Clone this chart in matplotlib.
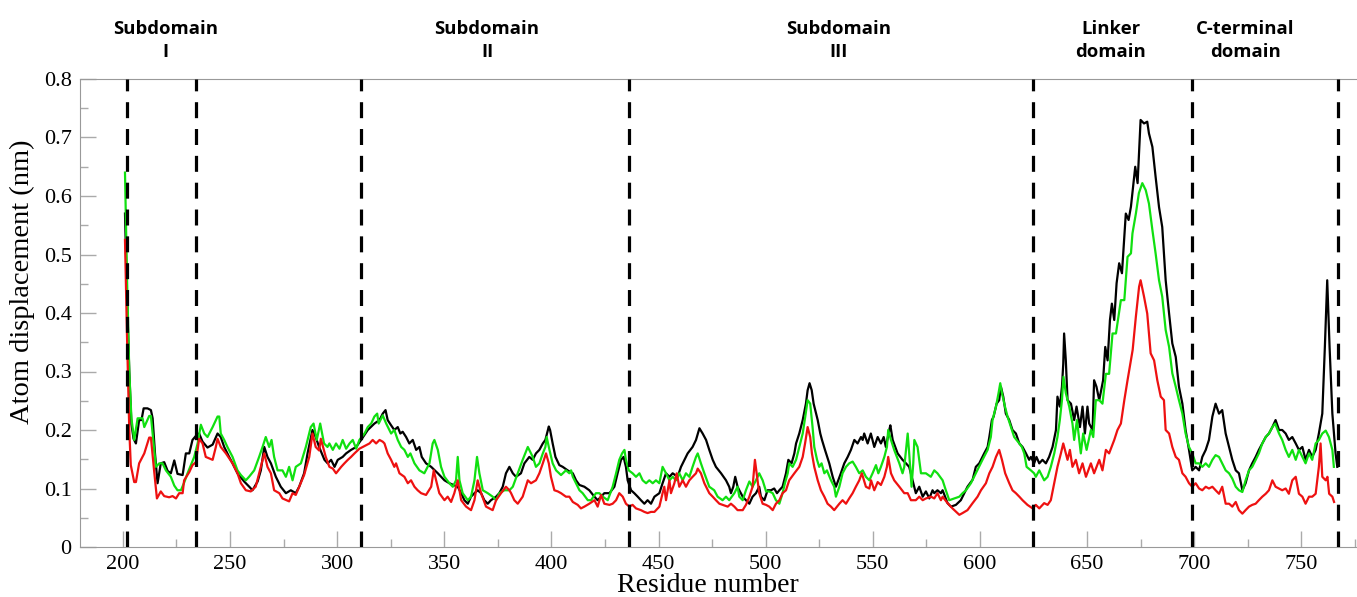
import numpy as np
import matplotlib
matplotlib.use("Agg")
import matplotlib.pyplot as plt
from matplotlib.ticker import MultipleLocator

# (residue, displacement in nm)
black = [
    (201, 0.57), (202, 0.42), (203, 0.30), (204, 0.21), (205, 0.185), (206.1, 0.177), (207.6, 0.217), (208.7, 0.217),
    (209.7, 0.237), (211.5, 0.237), (213.1, 0.234), (213.9, 0.22), (215, 0.16), (216.2, 0.109), (217.7, 0.143),
    (219.3, 0.145), (220.9, 0.130), (222.4, 0.126), (224, 0.148), (225.5, 0.125), (227.9, 0.123), (229.4, 0.160),
    (231, 0.160), (232.5, 0.183), (234.1, 0.19), (235.6, 0.194), (237.2, 0.18), (239.5, 0.17), (241.9, 0.175),
    (244.2, 0.194), (245.7, 0.188), (247.3, 0.171), (249.6, 0.154), (251.2, 0.143), (253.5, 0.126), (256.6, 0.112),
    (259, 0.103), (260.5, 0.097), (262.9, 0.112), (264.4, 0.131), (266, 0.171), (267.5, 0.154), (269.1, 0.143),
    (271.4, 0.120), (273.7, 0.103), (276.1, 0.092), (278.4, 0.097), (280.7, 0.092), (282.3, 0.103), (284.6, 0.126),
    (286.2, 0.160), (288.5, 0.200), (290, 0.188), (291.6, 0.171), (294.1, 0.149), (295.6, 0.143), (297.2, 0.149),
    (298.8, 0.137), (300.3, 0.149), (302.6, 0.154), (304.2, 0.160), (306.5, 0.166), (308.9, 0.171), (311.2, 0.183),
    (314.3, 0.200), (317.4, 0.211), (319.8, 0.217), (321.3, 0.228), (322.6, 0.234), (323.6, 0.217), (325.2, 0.208),
    (326.7, 0.200), (328.3, 0.205), (329.5, 0.194), (330.6, 0.197), (332.2, 0.188), (333.7, 0.177), (335.3, 0.183),
    (336.9, 0.166), (338.4, 0.171), (339.5, 0.154), (341.5, 0.143), (343.9, 0.137), (347, 0.126), (350.1, 0.114),
    (352.4, 0.109), (356.3, 0.103), (357.9, 0.092), (359.4, 0.080), (361, 0.074), (362.5, 0.086), (364.1, 0.092),
    (365.6, 0.097), (367.2, 0.092), (368.7, 0.080), (370.3, 0.074), (371.8, 0.080), (374.2, 0.086), (375.7, 0.092),
    (377.3, 0.103), (378.8, 0.126), (380.4, 0.137), (382, 0.126), (383.5, 0.120), (385.8, 0.126), (387.4, 0.143),
    (389.7, 0.154), (391.3, 0.149), (392.8, 0.160), (394.4, 0.166), (396, 0.177), (397.2, 0.183), (398.8, 0.206),
    (399.4, 0.200), (400.6, 0.177), (401.9, 0.154), (403.7, 0.140), (405.3, 0.137), (407.6, 0.131), (410, 0.126),
    (411.5, 0.114), (413.1, 0.106), (415.4, 0.103), (417.7, 0.097), (420.1, 0.086), (421.6, 0.080), (423.2, 0.086),
    (424.7, 0.092), (427.1, 0.092), (429.4, 0.103), (430.9, 0.126), (432.5, 0.149), (433.7, 0.154), (434.8, 0.137),
    (435.6, 0.114), (437.2, 0.097), (438.7, 0.092), (440.3, 0.086), (441.8, 0.080), (443.4, 0.074), (444.9, 0.080),
    (446.5, 0.074), (448.1, 0.086), (450.4, 0.092), (451.9, 0.109), (453.5, 0.126), (455.1, 0.120), (456.6, 0.126),
    (458.9, 0.120), (460.5, 0.137), (462.1, 0.149), (463.6, 0.160), (465.9, 0.171), (467.5, 0.183), (469.1, 0.203),
    (470.6, 0.194), (472.2, 0.183), (473.7, 0.166), (475.3, 0.149), (476.8, 0.137), (479.2, 0.126), (481.5, 0.114),
    (483, 0.103), (483.8, 0.092), (484.9, 0.103), (485.8, 0.120), (486.9, 0.103), (487.7, 0.097), (489.3, 0.086),
    (490.8, 0.080), (492.4, 0.074), (493.9, 0.086), (495.5, 0.092), (497, 0.103), (497.8, 0.086), (499.4, 0.080),
    (500.9, 0.097), (502.5, 0.097), (504, 0.100), (505.3, 0.092), (506.4, 0.097), (507.9, 0.103), (509.5, 0.126),
    (510.6, 0.149), (512.1, 0.143), (513.4, 0.160), (514.2, 0.177), (515.7, 0.194), (517.3, 0.217), (518.8, 0.245),
    (519.6, 0.268), (520.5, 0.280), (521.5, 0.268), (522.4, 0.245), (524.3, 0.217), (525.5, 0.194), (526.3, 0.183),
    (527.7, 0.166), (529.7, 0.143), (531.3, 0.120), (532.8, 0.103), (533.9, 0.114), (535.1, 0.126), (536.7, 0.143),
    (538.3, 0.154), (539.8, 0.166), (541.4, 0.183), (542.9, 0.177), (544.5, 0.188), (545.3, 0.183), (546, 0.194),
    (547.6, 0.177), (549.1, 0.194), (550.7, 0.171), (552.3, 0.188), (553.8, 0.177), (555.1, 0.188), (556.1, 0.171),
    (557.7, 0.200), (558.2, 0.208), (559.3, 0.183), (561.6, 0.160), (563.9, 0.149), (565.5, 0.143), (567, 0.137),
    (568.6, 0.114), (570.1, 0.092), (571.7, 0.103), (573.3, 0.086), (574.8, 0.095), (576.4, 0.083), (577.9, 0.097),
    (578.7, 0.092), (580.2, 0.097), (581.8, 0.092), (582.6, 0.097), (584.9, 0.075), (586.5, 0.069), (588.8, 0.072),
    (591.1, 0.080), (592.7, 0.092), (594.2, 0.103), (596.6, 0.115), (598.1, 0.137), (599.7, 0.143), (602, 0.160),
    (603.6, 0.171), (604.4, 0.188), (605.6, 0.217), (606.4, 0.223), (607.8, 0.245), (609, 0.251), (609.8, 0.274),
    (610.9, 0.257), (612.1, 0.228), (613.7, 0.217), (615.2, 0.200), (616.8, 0.194), (618.4, 0.177), (619.9, 0.171),
    (621.5, 0.160), (623, 0.149), (623.8, 0.154), (625.3, 0.143), (626.4, 0.154), (627.7, 0.143), (629.2, 0.149),
    (630.8, 0.143), (632.3, 0.154), (633.9, 0.171), (635.5, 0.200), (636.2, 0.257), (637.3, 0.240), (638.3, 0.274),
    (638.9, 0.313), (639.3, 0.365), (640.1, 0.319), (640.9, 0.251), (642.5, 0.245), (644, 0.217), (645.1, 0.240),
    (646.7, 0.205), (647.9, 0.240), (649, 0.194), (650.2, 0.240), (651, 0.211), (652.6, 0.200), (653.3, 0.285),
    (654.4, 0.274), (655.7, 0.251), (657.5, 0.285), (658.5, 0.342), (659.6, 0.319), (660.7, 0.388), (661.6, 0.416),
    (662.7, 0.388), (663.8, 0.451), (665, 0.485), (666.3, 0.468), (667.3, 0.525), (668.1, 0.570), (669.4, 0.559),
    (670.5, 0.582), (671.5, 0.616), (672.5, 0.650), (673.6, 0.622), (675, 0.730), (676.6, 0.724), (678.1, 0.727),
    (678.9, 0.707), (680.5, 0.684), (682, 0.633), (683.6, 0.581), (685.1, 0.547), (686.7, 0.456), (688.3, 0.399),
    (689.8, 0.348), (691.4, 0.325), (692.9, 0.274), (694.5, 0.245), (696, 0.200), (697.6, 0.166), (699.1, 0.131),
    (700.7, 0.137), (702.3, 0.131), (703.8, 0.154), (705.4, 0.166), (706.9, 0.183), (708.5, 0.223), (710, 0.245),
    (711.6, 0.228), (713.1, 0.234), (714.7, 0.194), (716.3, 0.171), (717.8, 0.149), (719.4, 0.131), (720.9, 0.126),
    (722.5, 0.097), (724, 0.109), (725.6, 0.131), (727.1, 0.143), (728.7, 0.154), (730.2, 0.166), (731.8, 0.177),
    (733.4, 0.188), (734.9, 0.194), (736.5, 0.205), (738, 0.217), (739.6, 0.200), (741.1, 0.200), (742.7, 0.194),
    (744.2, 0.183), (745.8, 0.188), (747.4, 0.177), (748.9, 0.166), (750.5, 0.171), (752, 0.149), (753.6, 0.166),
    (755.1, 0.154), (756.7, 0.166), (758.2, 0.194), (759.8, 0.228), (761, 0.342), (762.1, 0.456), (763.2, 0.342),
    (764.5, 0.228), (766, 0.160), (766.8, 0.137),
]

green = [
    (201, 0.64), (202, 0.45), (203, 0.30), (204, 0.22), (205.3, 0.183), (206.9, 0.220), (209.2, 0.220), (210, 0.205),
    (212.3, 0.224), (213.1, 0.224), (215.4, 0.137), (217, 0.143), (218.5, 0.143), (220.1, 0.131), (222.4, 0.120),
    (224, 0.105), (225.5, 0.097), (227.1, 0.097), (228.6, 0.110), (230.2, 0.126), (233.3, 0.154), (234.9, 0.177),
    (236.4, 0.209), (238, 0.194), (239.5, 0.188), (241.9, 0.205), (244.2, 0.223), (245, 0.223), (245.7, 0.194),
    (247.3, 0.183), (248.8, 0.171), (251.2, 0.154), (253.5, 0.131), (255.1, 0.123), (257.4, 0.114), (258.9, 0.120),
    (261.3, 0.131), (263.6, 0.154), (265.2, 0.171), (266.7, 0.188), (268.3, 0.171), (269.4, 0.183), (270.6, 0.154),
    (272.2, 0.131), (274.5, 0.131), (276.1, 0.120), (277.6, 0.137), (279.2, 0.114), (280.7, 0.137), (283.1, 0.143),
    (285.4, 0.171), (287.7, 0.205), (289, 0.211), (290.5, 0.183), (292.1, 0.211), (293.9, 0.177), (295.5, 0.171),
    (296.4, 0.177), (298, 0.166), (299.5, 0.177), (301.1, 0.168), (302.6, 0.183), (304.2, 0.168), (305.8, 0.177),
    (307.3, 0.183), (308.9, 0.168), (310.4, 0.183), (312.8, 0.194), (314.3, 0.205), (315.9, 0.211), (317.4, 0.223),
    (318.7, 0.228), (319.4, 0.211), (321.3, 0.225), (322.9, 0.211), (325.2, 0.194), (326.7, 0.200), (328.3, 0.183),
    (329.9, 0.171), (331.4, 0.166), (333, 0.154), (334.2, 0.160), (336.1, 0.143), (338.4, 0.131), (340.7, 0.126),
    (343.1, 0.143), (344.6, 0.177), (345.4, 0.183), (347, 0.166), (348.5, 0.137), (350.1, 0.120), (352.4, 0.109),
    (354, 0.103), (355.5, 0.114), (356.3, 0.154), (357.1, 0.114), (358.6, 0.092), (361, 0.080), (362.5, 0.086),
    (364.1, 0.114), (365.3, 0.154), (366.4, 0.126), (368, 0.097), (370.3, 0.092), (372.6, 0.086), (374.2, 0.080),
    (375.7, 0.092), (378.1, 0.097), (380.4, 0.097), (382, 0.103), (384.3, 0.126), (386.6, 0.149), (389, 0.171),
    (390.5, 0.160), (391.3, 0.154), (392.8, 0.137), (394.4, 0.143), (396, 0.160), (397.2, 0.171), (397.8, 0.188),
    (399.1, 0.166), (400.6, 0.143), (402.2, 0.131), (404.5, 0.123), (406.8, 0.131), (408.4, 0.126), (409.2, 0.131),
    (410, 0.120), (411.5, 0.109), (413.1, 0.097), (414.6, 0.092), (417, 0.080), (418.5, 0.080), (420.8, 0.092),
    (422.4, 0.092), (424, 0.086), (426.3, 0.080), (428.6, 0.103), (430.2, 0.126), (431.7, 0.149), (433, 0.160),
    (434.1, 0.166), (434.8, 0.149), (436.1, 0.131), (437.9, 0.126), (439.5, 0.120), (441.1, 0.126), (442.6, 0.114),
    (444.2, 0.109), (445.7, 0.114), (447.3, 0.109), (448.8, 0.114), (450.4, 0.109), (451.9, 0.137), (453.5, 0.126),
    (455.1, 0.114), (456.6, 0.120), (458.2, 0.114), (459.7, 0.126), (461.3, 0.114), (462.8, 0.126), (464.4, 0.120),
    (465.9, 0.137), (467.5, 0.154), (468.3, 0.160), (469.8, 0.143), (471.4, 0.126), (473.7, 0.103), (476, 0.097),
    (477.6, 0.086), (479.9, 0.080), (481.5, 0.086), (483, 0.080), (485.4, 0.092), (486.9, 0.103), (487.7, 0.086),
    (489.3, 0.080), (490.8, 0.097), (492.4, 0.112), (493.9, 0.103), (495.5, 0.114), (497, 0.126), (498.6, 0.114),
    (500.2, 0.095), (501.7, 0.095), (503.3, 0.092), (504.8, 0.080), (506.4, 0.074), (507.9, 0.092), (509, 0.109),
    (510.3, 0.126), (511, 0.143), (512.6, 0.137), (514.2, 0.149), (515.7, 0.171), (517.3, 0.194), (518.5, 0.223),
    (519.6, 0.251), (520.8, 0.245), (521.9, 0.205), (522.7, 0.171), (524, 0.149), (525, 0.137), (526.1, 0.143),
    (527.4, 0.126), (528.6, 0.131), (530.5, 0.114), (532, 0.103), (532.8, 0.086), (534.4, 0.103), (535.9, 0.126),
    (537.5, 0.137), (539, 0.143), (540.6, 0.146), (542.1, 0.137), (543.7, 0.126), (545.3, 0.131), (546.8, 0.120),
    (548.4, 0.114), (549.9, 0.126), (551.5, 0.140), (552.6, 0.126), (553.8, 0.137), (555.4, 0.154), (556.6, 0.171),
    (557.2, 0.200), (558.5, 0.183), (560, 0.166), (562.4, 0.143), (563.9, 0.126), (564.7, 0.137), (566.3, 0.194),
    (567, 0.160), (568.1, 0.103), (568.9, 0.143), (569.4, 0.183), (570.9, 0.171), (572.5, 0.126), (574.8, 0.126),
    (577.1, 0.120), (578.7, 0.131), (580.2, 0.126), (582.6, 0.114), (584.1, 0.097), (585.7, 0.080), (588, 0.083),
    (590.4, 0.086), (591.9, 0.092), (593.5, 0.097), (595.8, 0.109), (598.1, 0.126), (601.2, 0.149), (603.6, 0.166),
    (605.1, 0.188), (605.9, 0.217), (607.5, 0.240), (608.7, 0.263), (609.5, 0.280), (610.3, 0.263), (611.7, 0.240),
    (612.9, 0.223), (614.5, 0.205), (616, 0.188), (618.4, 0.177), (619.6, 0.171), (620.7, 0.160), (621.8, 0.137),
    (623.8, 0.131), (625.3, 0.126), (626.1, 0.120), (627.7, 0.131), (630, 0.114), (631.6, 0.120), (633.1, 0.137),
    (634.7, 0.160), (636.2, 0.188), (637.3, 0.217), (638.3, 0.251), (639, 0.291), (640.1, 0.263), (641.7, 0.240),
    (643.2, 0.211), (644, 0.183), (645.3, 0.217), (647.1, 0.160), (648.2, 0.194), (649.8, 0.166), (651.8, 0.200),
    (652.9, 0.188), (654.1, 0.251), (655.7, 0.251), (657.2, 0.245), (658.8, 0.296), (660.3, 0.296), (661.9, 0.365),
    (663.5, 0.365), (665.8, 0.422), (667.4, 0.422), (668.9, 0.496), (670.5, 0.502), (671.2, 0.536), (672.8, 0.570),
    (674.2, 0.605), (675.8, 0.622), (677.4, 0.610), (678.9, 0.587), (680.5, 0.542), (682, 0.502), (683.6, 0.456),
    (685.1, 0.428), (686.7, 0.371), (688.3, 0.342), (689.8, 0.297), (691.4, 0.274), (692.9, 0.251), (694.5, 0.228),
    (696, 0.194), (697.6, 0.171), (699.1, 0.160), (700.7, 0.143), (702.3, 0.143), (703.8, 0.137), (705.4, 0.143),
    (706.9, 0.137), (708.5, 0.149), (710, 0.157), (711.6, 0.154), (713.1, 0.143), (714.7, 0.131), (716.3, 0.126),
    (717.8, 0.117), (719.4, 0.103), (720.9, 0.097), (722.5, 0.094), (724, 0.114), (725.6, 0.131), (727.1, 0.137),
    (728.7, 0.149), (730.2, 0.160), (731.8, 0.177), (733.4, 0.188), (734.9, 0.194), (736.5, 0.205), (737.8, 0.211),
    (739.6, 0.194), (741.1, 0.183), (742.7, 0.166), (744.2, 0.154), (745.8, 0.166), (747.4, 0.149), (748.9, 0.166),
    (750.5, 0.154), (752, 0.143), (753.6, 0.160), (755.1, 0.149), (756.7, 0.177), (758.2, 0.183), (759.8, 0.194),
    (761.4, 0.199), (762.9, 0.188), (764.5, 0.166), (765.2, 0.137),
]

red = [
    (201, 0.525), (202, 0.35), (203, 0.20), (203.7, 0.14), (205.3, 0.111), (206.1, 0.111), (207.6, 0.143), (210, 0.160),
    (212.3, 0.187), (213.1, 0.187), (214.6, 0.13), (215.9, 0.083), (217.7, 0.095), (219.3, 0.087), (221.6, 0.085),
    (223.2, 0.087), (224.8, 0.083), (226.3, 0.092), (227.9, 0.092), (228.6, 0.114), (231, 0.128), (232.5, 0.140),
    (234.1, 0.145), (235.6, 0.185), (237.2, 0.177), (238.7, 0.154), (241.9, 0.149), (243.4, 0.171), (244.2, 0.185),
    (245.7, 0.171), (248.1, 0.160), (251.2, 0.143), (253.5, 0.126), (255.1, 0.109), (257.4, 0.097), (259.7, 0.095),
    (262, 0.103), (263.6, 0.126), (265.2, 0.149), (266, 0.160), (267.5, 0.137), (269.1, 0.126), (270.6, 0.097),
    (273, 0.092), (274.5, 0.083), (277.6, 0.078), (279.2, 0.092), (280.7, 0.089), (282.3, 0.103), (284.6, 0.123),
    (287, 0.154), (288.5, 0.194), (290, 0.171), (291.6, 0.165), (292.4, 0.185), (294.7, 0.154), (296.4, 0.137),
    (298, 0.134), (299.5, 0.126), (301.9, 0.137), (303.4, 0.143), (305, 0.149), (306.5, 0.154), (308.1, 0.160),
    (310.4, 0.168), (312, 0.171), (313.5, 0.174), (315.1, 0.177), (316.6, 0.183), (318.2, 0.177), (319.8, 0.183),
    (321.3, 0.180), (322.1, 0.177), (323.6, 0.160), (325.2, 0.149), (326.7, 0.137), (327.5, 0.143), (329.1, 0.126),
    (331.4, 0.120), (333, 0.109), (334.5, 0.114), (336.1, 0.103), (337.6, 0.097), (339.2, 0.092), (341.5, 0.089),
    (343.9, 0.103), (345.1, 0.131), (346.2, 0.114), (347.7, 0.092), (350.1, 0.080), (351.6, 0.086), (353.2, 0.077),
    (354.7, 0.092), (356.3, 0.114), (357.9, 0.080), (360.2, 0.069), (362.5, 0.063), (364.1, 0.080), (365.6, 0.114),
    (367.2, 0.092), (369.5, 0.069), (372.6, 0.063), (374.2, 0.080), (376.5, 0.092), (378.8, 0.103), (380.4, 0.097),
    (381.2, 0.092), (382.7, 0.080), (384.3, 0.074), (386.6, 0.086), (389, 0.114), (390.5, 0.109), (392.8, 0.114),
    (394.4, 0.126), (396, 0.143), (397.5, 0.160), (398.8, 0.143), (399.8, 0.120), (401.4, 0.097), (403, 0.095),
    (404.5, 0.092), (406.8, 0.086), (408.4, 0.086), (410, 0.077), (412.3, 0.072), (413.8, 0.066), (415.4, 0.069),
    (417.7, 0.074), (420.1, 0.080), (421.6, 0.069), (423.2, 0.089), (424.7, 0.074), (427.1, 0.072), (428.6, 0.074),
    (430.2, 0.080), (431.7, 0.092), (433.3, 0.086), (434.8, 0.074), (436.4, 0.069), (437.9, 0.072), (439.5, 0.066),
    (441.8, 0.063), (443.4, 0.060), (444.9, 0.058), (446.5, 0.060), (448.1, 0.060), (450.4, 0.069), (451.9, 0.092),
    (452.7, 0.103), (453.5, 0.080), (455.1, 0.114), (455.8, 0.092), (457.4, 0.109), (458.5, 0.126), (459.7, 0.103),
    (461.3, 0.114), (462.8, 0.103), (464.4, 0.114), (465.9, 0.120), (467.5, 0.126), (468.3, 0.134), (469.8, 0.126),
    (471.4, 0.109), (473.7, 0.092), (475.3, 0.086), (476.8, 0.080), (478.4, 0.074), (479.9, 0.072), (482.3, 0.069),
    (483.8, 0.074), (485.4, 0.069), (486.9, 0.063), (489.3, 0.063), (490.8, 0.072), (492.4, 0.086), (493.9, 0.103),
    (495, 0.149), (496, 0.120), (497, 0.092), (498.6, 0.074), (500.2, 0.072), (501.7, 0.069), (503.3, 0.063),
    (504.8, 0.074), (506.4, 0.080), (507.9, 0.092), (509.5, 0.097), (511, 0.114), (513.4, 0.126), (515.7, 0.137),
    (517.3, 0.154), (518.4, 0.177), (519.6, 0.205), (520.8, 0.188), (521.6, 0.160), (522.7, 0.137), (524.3, 0.114),
    (525.8, 0.097), (527.4, 0.086), (528.9, 0.074), (530.5, 0.069), (532, 0.063), (534.4, 0.074), (535.9, 0.080),
    (537.5, 0.074), (539, 0.083), (540.6, 0.092), (542.1, 0.103), (543.7, 0.114), (544.9, 0.126), (546.8, 0.103),
    (548.4, 0.100), (549.2, 0.114), (550.7, 0.097), (552.3, 0.111), (553.8, 0.106), (555.4, 0.120), (556.6, 0.137),
    (557.2, 0.154), (558.5, 0.126), (560, 0.114), (562.4, 0.103), (564.7, 0.092), (566.3, 0.092), (567.8, 0.080),
    (570.1, 0.080), (571.7, 0.086), (573.3, 0.080), (574.8, 0.083), (577.2, 0.086), (578.7, 0.083), (580.2, 0.092),
    (581.8, 0.080), (582.6, 0.086), (584.9, 0.075), (587.2, 0.066), (590.4, 0.055), (591.9, 0.058), (594.2, 0.063),
    (596.6, 0.075), (598.9, 0.086), (600.5, 0.097), (602.8, 0.109), (604.4, 0.126), (605.9, 0.137), (607.5, 0.154),
    (609, 0.166), (610.3, 0.149), (611.8, 0.126), (613.7, 0.109), (615.2, 0.097), (616.8, 0.092), (618.4, 0.086),
    (619.9, 0.080), (622.2, 0.072), (624.6, 0.066), (626.1, 0.072), (627.7, 0.066), (630, 0.075), (631.6, 0.072),
    (633.1, 0.080), (634.7, 0.109), (636.2, 0.137), (637.8, 0.160), (638.9, 0.177), (640.1, 0.160), (640.9, 0.149),
    (642, 0.166), (643.2, 0.137), (644.8, 0.149), (646.3, 0.126), (647.9, 0.143), (649.5, 0.120), (651.8, 0.143),
    (653.3, 0.126), (655.7, 0.149), (657.2, 0.131), (658.8, 0.166), (660.3, 0.160), (662.7, 0.183), (664.2, 0.200),
    (665.8, 0.211), (667.4, 0.251), (668.9, 0.285), (671.3, 0.337), (672.8, 0.394), (674.3, 0.445), (675, 0.456),
    (676.6, 0.428), (678.1, 0.399), (679.7, 0.331), (681.3, 0.319), (682.8, 0.285), (684.4, 0.257), (685.9, 0.251),
    (686.7, 0.200), (688.3, 0.194), (689.8, 0.171), (691.4, 0.154), (692.9, 0.149), (694.5, 0.126), (696, 0.120),
    (697.6, 0.109), (699.1, 0.103), (700.7, 0.109), (702.3, 0.100), (703.8, 0.097), (705.4, 0.103), (706.9, 0.100),
    (708.5, 0.103), (710, 0.097), (711.6, 0.091), (713.1, 0.103), (714.7, 0.074), (716.3, 0.074), (717.8, 0.069),
    (719.4, 0.077), (720.9, 0.063), (722.5, 0.057), (724, 0.063), (725.6, 0.069), (727.1, 0.072), (728.7, 0.074),
    (730.2, 0.080), (731.8, 0.086), (733.4, 0.091), (734.9, 0.097), (736.5, 0.114), (738, 0.103), (739.6, 0.100),
    (741.1, 0.097), (742.7, 0.100), (744.2, 0.091), (745.8, 0.114), (747.4, 0.120), (748.9, 0.091), (750.5, 0.086),
    (752, 0.074), (753.6, 0.086), (755.1, 0.086), (756.7, 0.091), (758.2, 0.137), (759, 0.177), (759.8, 0.120),
    (761.4, 0.114), (762.2, 0.120), (763, 0.091), (764.5, 0.086), (765.3, 0.077),
]

boundaries = [202, 234, 311, 436, 625, 699, 767]
domain_labels = ["Subdomain\nI", "Subdomain\nII", "Subdomain\nIII", "Linker\ndomain", "C-terminal\ndomain"]
label_centres = [220, 370, 534, 661, 724]

fig = plt.figure(figsize=(13.57, 5.97), dpi=100)
ax = fig.add_axes([80 / 1357, 50 / 597, 1277 / 1357, 468 / 597])

for series, colour in [(black, "black"), (green, "#10e010"), (red, "#ee1111")]:
    arr = np.array(series)
    ax.plot(arr[:, 0], arr[:, 1], color=colour, lw=1.6)

for b in boundaries:
    ax.axvline(b, color="black", lw=2.3, dashes=(5, 3.4), zorder=3)

for lab, xc in zip(domain_labels, label_centres):
    ax.text(xc, 1.083, lab, transform=ax.get_xaxis_transform(), ha="center", va="center",
            fontsize=13.3, fontweight="bold", family="Open Sans", linespacing=1.35)

ax.set_xlim(180, 776)
ax.set_ylim(0, 0.8)
ax.xaxis.set_major_locator(MultipleLocator(50))
ax.xaxis.set_minor_locator(MultipleLocator(25))
ax.yaxis.set_minor_locator(MultipleLocator(0.05))
ax.set_yticks(np.arange(0, 0.81, 0.1))
ax.set_yticklabels(["0", "0.1", "0.2", "0.3", "0.4", "0.5", "0.6", "0.7", "0.8"])

for sp in ["left", "bottom", "top"]:
    ax.spines[sp].set_color("#999999")
ax.spines["right"].set_visible(False)
ax.tick_params(which="major", direction="in", length=11.5, color="#aaaaaa", width=1, pad=6)
ax.tick_params(which="minor", direction="in", length=6, color="#aaaaaa", width=1)
for t in ax.get_xticklabels() + ax.get_yticklabels():
    t.set_family("Liberation Serif")
    t.set_fontsize(16)

ax.set_xlabel("Residue number", family="Liberation Serif", fontsize=20)
ax.set_ylabel("Atom displacement (nm)", family="Liberation Serif", fontsize=20.5)
ax.xaxis.label.set_va("baseline")
ax.xaxis.set_label_coords((708 - 80) / 1277, (547 - 592) / 468)
ax.yaxis.label.set_va("center")
ax.yaxis.set_label_coords((22 - 80) / 1277, (547 - 282) / 468)

fig.savefig("out.png", dpi=100)
